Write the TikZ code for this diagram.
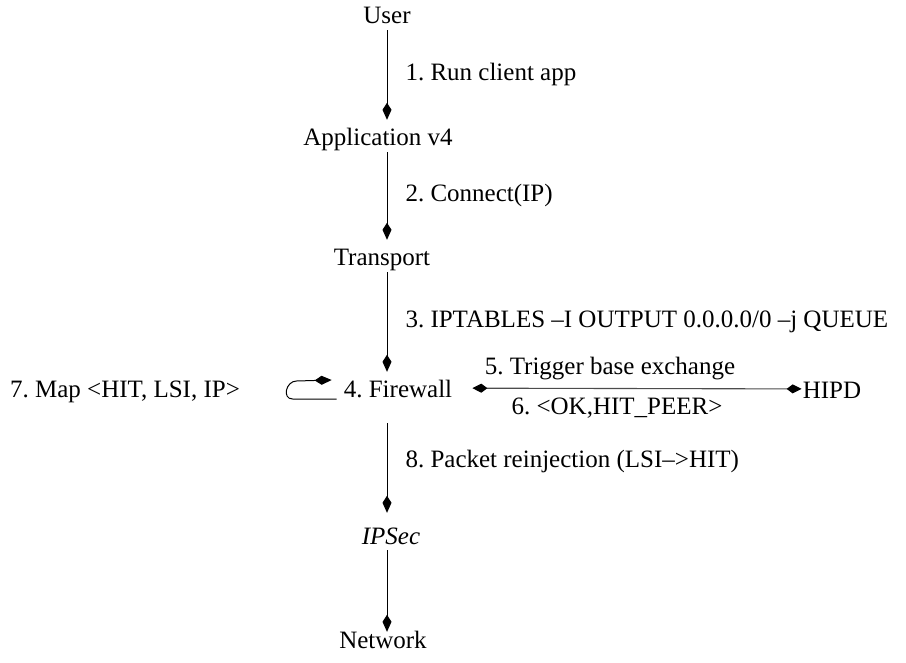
\documentclass[tikz,border=0pt]{standalone}
\usepackage{fontspec}
\setmainfont{Liberation Serif}
\usetikzlibrary{arrows.meta, positioning, calc}
\frenchspacing

\begin{document}
\begin{tikzpicture}[x=1pt, y=-1pt,
  every node/.style={font=\fontsize{25}{30}\selectfont},
  layer/.style={anchor=base, inner sep=0pt, text height=26pt, text depth=6pt},
  lbl/.style={inner sep=2pt, text height=17pt, text depth=5pt},
  flow/.style={line width=1pt, -{Kite[length=17pt, width=9pt, inset=7pt]}},
  swap/.style={line width=1.1pt, draw=black!70,
    {Kite[length=15pt, width=9pt, inset=6pt, color=black]}-{Kite[length=15pt, width=9pt, inset=6pt, color=black]}}]
  \useasboundingbox (0,0) rectangle (906,663);

  % Protocol stack
  \node[layer] (user) at (387,24) {User};
  \node[layer] (app) at (378,146) {Application v4};
  \node[layer] (transport) at (382,266) {Transport};
  \node[layer] (firewall) at (398,398) {4. Firewall};
  \node[layer] (ipsec) at (391,544) {\itshape IPSec};
  \node[layer] (network) at (383,648) {Network};

  % Side nodes
  \node[layer] (map) at (125,398) {7. Map <HIT, LSI, IP>};
  \node[layer] (hipd) at (832,399) {HIPD};

  % Downward path
  \draw[flow] (user) -- (user |- app.north)
    node[lbl, midway, right=16pt] {1. Run client app};
  \draw[flow] (user |- app.south) -- (user |- transport.north)
    node[lbl, midway, right=16pt] {2. Connect(IP)};
  \draw[flow] (user |- transport.south) -- (user |- firewall.north)
    node[lbl, midway, right=16pt] {3. IPTABLES –I OUTPUT 0.0.0.0/0 –j QUEUE};
  \draw[flow, shorten <=19pt, shorten >=5pt] (user |- firewall.south) -- (user |- ipsec.north)
    node[lbl, midway, right=16pt] {8. Packet reinjection (LSI–>HIT)};
  \draw[flow, shorten >=-10pt] (user |- ipsec.south) -- (user |- network.north);

  % Firewall <-> HIPD
  \draw[swap, shorten <=20pt, shorten >=1pt] (firewall) -- (hipd)
    node[lbl, pos=.45, above=6pt] {5. Trigger base exchange}
    node[lbl, pos=.47, below=6pt] {6. <OK,HIT\_PEER>};

  % Mapping loop
  \draw[flow] ([xshift=-7pt, yshift=-11pt]firewall.west) -- ++(-44,0)
    to[out=180, in=180, looseness=1.5] ++(4,-18) -- ++(35,-1);
\end{tikzpicture}
\end{document}
